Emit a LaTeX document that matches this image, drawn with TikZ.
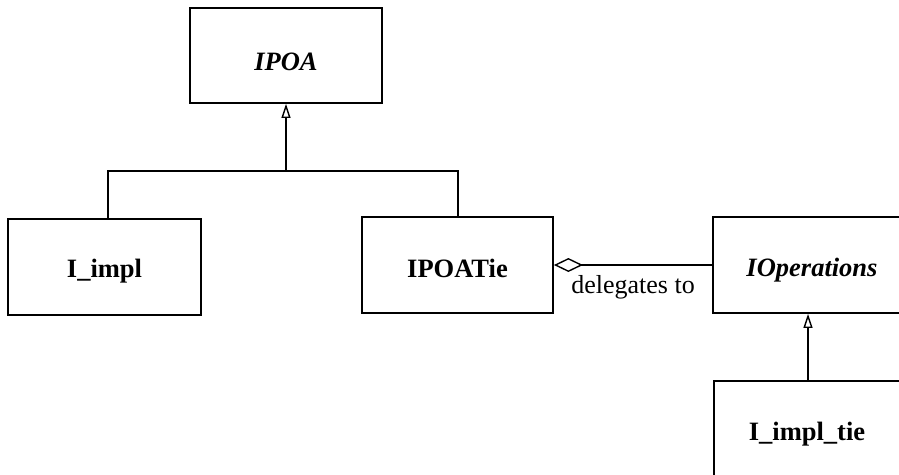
\documentclass[tikz,border=0pt]{standalone}
\usepackage{fontspec}
\setmainfont{Liberation Serif}
\usetikzlibrary{arrows.meta}
\begin{document}
\begin{tikzpicture}[x=1pt,y=-1pt,
  box/.style={draw,line width=1.8pt,inner sep=0pt,text height=24pt,text depth=0pt,font=\fontsize{26.5}{31}\selectfont\bfseries},
  lbl/.style={inner sep=0pt,font=\fontsize{26.5}{31}\selectfont\bfseries},
  conn/.style={line width=1.8pt},
  inh/.style={conn,-{Triangle[open,length=14pt,width=9pt,line width=1.4pt]}},
  agg/.style={conn,{Diamond[open,length=29pt,width=14pt,line width=1.4pt]}-}]
\useasboundingbox (0,0) rectangle (899,474);
\clip (0,0) rectangle (899,474);
\node[box,text height=29pt,minimum width=192pt,minimum height=95pt] (ipoa) at (286,55.5) {\itshape IPOA};
\node[box,text height=21pt,minimum width=193pt,minimum height=96pt] (impl) at (104.5,267) {I\_impl};
\node[box,minimum width=191pt,minimum height=96pt] (tie) at (457.5,265) {IPOATie};
\node[box,text height=22pt,minimum width=198pt,minimum height=96pt] (iops) at (812,265) {\itshape IOperations};
\node[box,minimum width=200pt,minimum height=130pt,anchor=north west] (tieimpl) at (713,380) {};
\node[lbl,anchor=base] (tietext) at (807,440) {I\_impl\_tie};
\coordinate (j) at (286,171);
\coordinate (implc) at (108,219);
\coordinate (tiec) at (458,217);
\draw[inh] (j) -- (ipoa.south);
\draw[conn] (implc) |- (j) -| (tiec);
\draw[agg] (tie.east) -- node[below=10pt,inner sep=0pt,font=\fontsize{26}{30}\selectfont] {delegates to} (iops.west);
\draw[inh] (808,380) coordinate (a) -- (a |- iops.south);
\end{tikzpicture}
\end{document}
